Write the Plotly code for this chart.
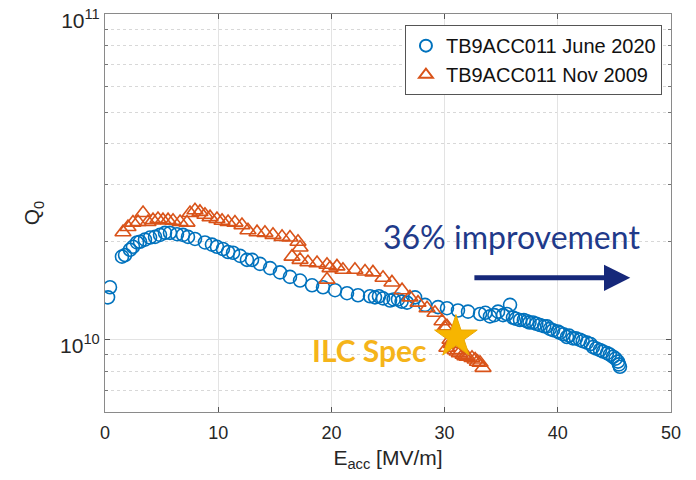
import numpy as np
import plotly.graph_objects as go

# ---- data (E_acc in MV/m, Q0 in units of 1e10) ----
june2020_E = [0.27, 0.44, 1.5, 1.77, 2.21, 2.47, 2.83, 3.09, 3.53, 3.98, 4.42, 4.86, 5.3, 5.74,
              6.36, 6.89, 7.33, 7.95, 8.83, 9.45, 9.89, 10.42, 10.87, 11.31, 11.93, 12.54, 12.99,
              13.69, 14.58, 15.46, 16.34, 17.23, 18.29, 19.26, 20.32, 21.38, 22.35, 23.41, 23.85,
              24.2, 24.56, 25.18, 25.5, 25.88, 26.2, 26.68, 27.39, 28.27, 29.42, 30.21, 31.18,
              32.07, 33.13, 33.6, 34.01, 34.4, 34.72, 35.16, 35.5, 35.78, 36.04, 36.3, 36.66, 37.0,
              37.28, 37.5, 37.81, 38.1, 38.43, 38.8, 39.05, 39.3, 39.58, 40.0, 40.19, 40.5, 40.81,
              41.0, 41.34, 41.6, 41.96, 42.2, 42.58, 42.9, 43.11, 43.4, 43.73, 44.0, 44.35, 44.6,
              44.88, 45.1, 45.32, 45.4, 45.49]
june2020_Q = [1.35, 1.45, 1.80, 1.82, 1.89, 1.93, 1.99, 2.00, 2.03, 2.06, 2.07, 2.10, 2.13, 2.13,
              2.11, 2.10, 2.07, 2.04, 1.99, 1.96, 1.93, 1.90, 1.86, 1.85, 1.81, 1.76, 1.76,
              1.71, 1.66, 1.61, 1.56, 1.52, 1.47, 1.45, 1.42, 1.39, 1.37, 1.36, 1.35,
              1.36, 1.34, 1.32, 1.33, 1.33, 1.31, 1.30, 1.35, 1.28, 1.26, 1.25, 1.23,
              1.22, 1.20, 1.21, 1.18, 1.19, 1.22, 1.19, 1.20, 1.28, 1.17, 1.16, 1.15, 1.15,
              1.14, 1.13, 1.13, 1.12, 1.11, 1.10, 1.10, 1.08, 1.07, 1.06, 1.05, 1.04, 1.02,
              1.03, 1.01, 1.01, 1.00, 0.99, 0.98, 0.97, 0.95, 0.94, 0.93, 0.92, 0.91, 0.90,
              0.887, 0.875, 0.857, 0.84, 0.826]

nov2009_E = [1.59, 2.03, 2.47, 2.92, 3.36, 3.80, 4.24, 4.68, 5.12, 5.57, 6.01, 6.63, 7.24, 7.51,
             7.95, 8.39, 8.83, 9.28, 9.89, 10.34, 10.87, 11.48, 12.10, 12.63, 13.43, 14.13, 14.84,
             15.64, 16.34, 17.05, 17.23, 16.52, 17.23, 17.93, 18.73, 19.61, 19.61, 19.88, 20.49,
             21.02, 22.08, 22.97, 23.67, 24.56, 25.35, 26.24, 26.94, 27.65, 28.45, 29.15, 29.77,
             30.0, 30.21, 30.2, 30.48, 30.6, 30.92, 31.1, 31.3, 31.63, 31.8, 32.0, 32.42, 32.7,
             32.9, 33.13, 33.39]
nov2009_Q = [2.14, 2.22, 2.29, 2.30, 2.45, 2.30, 2.33, 2.35, 2.33, 2.33, 2.32, 2.30, 2.29, 2.45,
             2.50, 2.47, 2.42, 2.38, 2.35, 2.32, 2.30, 2.29, 2.25, 2.17, 2.14, 2.13, 2.10,
             2.07, 2.06, 2.00, 1.92, 1.80, 1.76, 1.73, 1.72, 1.70, 1.53, 1.66, 1.68,
             1.64, 1.64, 1.62, 1.61, 1.55, 1.50, 1.42, 1.35, 1.30, 1.25, 1.21, 1.14,
             1.09, 1.10, 0.945, 1.00, 0.97, 0.93, 0.92, 0.91, 0.90, 0.89, 0.887, 0.88, 0.87,
             0.856, 0.85, 0.82]

spec_E = [31.0]
spec_Q = [1.02]

SCALE = 1e10
x_ticks = [0, 10, 20, 30, 40, 50]
y_major = [1e10, 1e11]
y_major_text = ["10<sup>10</sup>", "10<sup>11</sup>"]
y_minor = [6e9, 7e9, 8e9, 9e9] + [k * 1e10 for k in range(2, 10)]

fig = go.Figure()
fig.add_trace(go.Scatter(
    x=june2020_E, y=[q * SCALE for q in june2020_Q], mode="markers",
    name="TB9ACC011 June 2020",
    marker=dict(symbol="circle-open", size=13, color="#0072BD", line=dict(width=1.6, color="#0072BD")),
))
fig.add_trace(go.Scatter(
    x=nov2009_E, y=[q * SCALE for q in nov2009_Q], mode="markers",
    name="TB9ACC011 Nov 2009",
    marker=dict(symbol="triangle-up-open", size=14, color="#D95319", line=dict(width=1.6, color="#D95319")),
))
fig.add_trace(go.Scatter(
    x=spec_E, y=[q * SCALE for q in spec_Q], mode="markers", showlegend=False,
    marker=dict(symbol="star", size=32, color="#F7B500", line=dict(width=1, color="#EBA800")),
))

fig.add_annotation(x=35.9, y=np.log10(2.07e10), text="36% improvement", showarrow=False,
                   font=dict(family="Lato", size=32, color="#1F3A8A"), xref="x", yref="y")
fig.add_annotation(x=23.4, y=np.log10(0.93e10), text="<b>ILC Spec</b>", showarrow=False,
                   font=dict(family="Lato", size=30, color="#F5B41A"), xref="x", yref="y")
fig.add_annotation(x=46.4, y=np.log10(1.55e10), ax=32.5, ay=np.log10(1.55e10),
                   xref="x", yref="y", axref="x", ayref="y", text="", showarrow=True,
                   arrowhead=2, arrowsize=1.05, arrowwidth=5, arrowcolor="#16287A")

axis_font = dict(family="Liberation Sans, Arial", size=18, color="#262626")
fig.update_xaxes(
    range=[0, 50], tickvals=x_ticks, ticks="inside", ticklen=5, tickcolor="#555",
    showline=True, linecolor="#8a8a8a", linewidth=1, mirror="ticks", automargin=False,
    showgrid=True, gridcolor="#e3e3e3", zeroline=False, tickfont=axis_font,
    ticklabelstandoff=4,
    title=dict(text="E<sub>acc</sub> [MV/m]", font=dict(family="Liberation Sans, Arial", size=21, color="#262626"), standoff=12),
)
fig.update_yaxes(
    type="log", range=[np.log10(6e9), 11.0005], tickvals=y_major, ticktext=y_major_text,
    ticks="inside", ticklen=5, tickcolor="#555", automargin=False, ticklabeloverflow="allow",
    ticklabelshift=6,
    showline=True, linecolor="#8a8a8a", linewidth=1, mirror="ticks",
    showgrid=True, gridcolor="#e3e3e3", zeroline=False,
    tickfont=dict(family="Liberation Sans, Arial", size=21, color="#262626"),
    minor=dict(tickmode="array", tickvals=y_minor, ticks="inside", ticklen=3, tickcolor="#777",
               showgrid=True, gridcolor="#d8d8d8", griddash="dot"),
    title=dict(text="Q<sub>0</sub>", font=dict(family="Liberation Sans, Arial", size=21, color="#262626"), standoff=14),
)
fig.update_layout(
    width=680, height=464, margin=dict(l=97, r=17, t=6, b=60),
    paper_bgcolor="white", plot_bgcolor="white",
    legend=dict(x=0.984, y=0.972, xanchor="right", yanchor="top",
                bordercolor="#555", borderwidth=1, bgcolor="white",
                font=dict(family="Liberation Sans, Arial", size=20, color="#111"),
                itemsizing="constant", tracegroupgap=0, itemwidth=30,
                yref="paper"),
)
fig.write_html("out.html")
